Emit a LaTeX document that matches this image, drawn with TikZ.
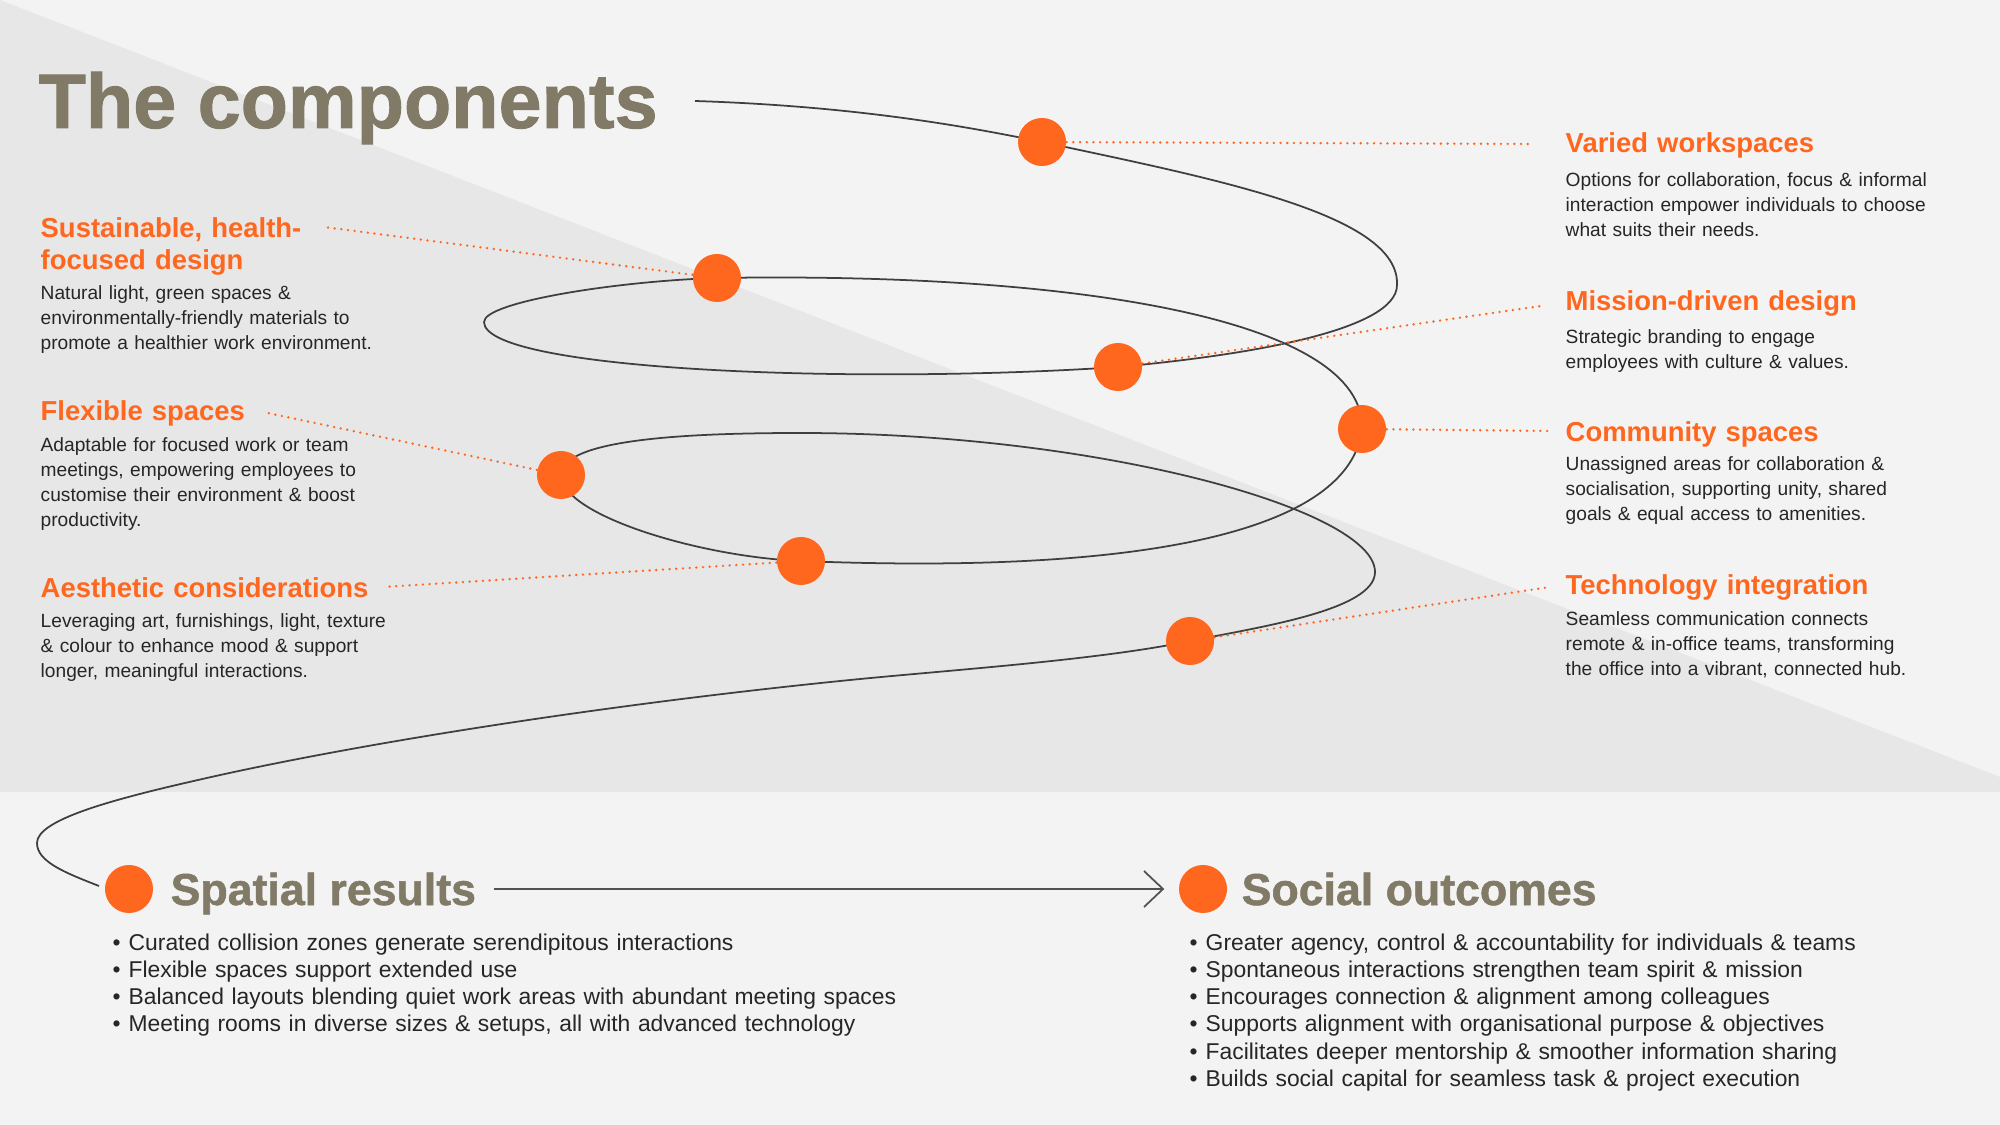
\documentclass[tikz,border=0pt]{standalone}
\usepackage{fontspec}
\setmainfont{Liberation Sans}
\newfontfamily\heavyfont{Liberation Sans}[BoldFeatures={FakeBold=1.2}]
\usetikzlibrary{arrows.meta}
\definecolor{bgl}{HTML}{F3F3F3}
\definecolor{bgd}{HTML}{E7E7E7}
\definecolor{org}{HTML}{FF671F}
\definecolor{ttl}{RGB}{128,122,103}
\definecolor{txt}{HTML}{262626}
\definecolor{ln}{HTML}{3F3F3F}
\pgfdeclarelayer{back}
\pgfdeclarelayer{lines}
\pgfsetlayers{back,lines,main}
\begin{document}
\begin{tikzpicture}[x=0.01cm,y=-0.01cm,
  dot/.style={circle,fill=org,minimum size=0.48cm,inner sep=0},
  lead/.style={org,line width=0.75pt,dash pattern=on 0pt off 1.9pt,line cap=round},
  head/.style={anchor=base west,inner sep=0,text=org,font=\bfseries\fontsize{7.8}{9.1}\selectfont,text width=5cm,align=left},
  body/.style={anchor=base west,inner sep=0,text=txt,font=\fontsize{5.45}{7.08}\selectfont,text width=5cm,align=left},
  big/.style={anchor=base west,inner sep=0,text=ttl,font=\heavyfont\bfseries\fontsize{12.7}{15}\selectfont},
  blist/.style={anchor=base west,inner sep=0,text=txt,font=\fontsize{6.5}{7.77}\selectfont,text width=9cm,align=left},
  spiral/.style={ln,line width=0.5pt},
  arr/.style={ln!90,line width=0.5pt,-{Straight Barb[length=1.9mm,width=3.6mm,line width=0.5pt]}}]
\useasboundingbox (0,0) rectangle (2000,1125);
\begin{pgfonlayer}{back}
\fill[bgl] (0,0) rectangle (2000,1125);
\fill[bgd] (0,0) -- (2000,777) -- (2000,792) -- (0,792) -- cycle;
\end{pgfonlayer}

% title
\node[anchor=base west,inner sep=0,text=ttl,font=\heavyfont\bfseries\fontsize{22}{26}\selectfont] (title) at (38,128) {The components};

% dots
\node[dot] (vw) at (1042,142) {};
\node[dot] (md) at (1118,367) {};
\node[dot] (su) at (717,278) {};
\node[dot] (cs) at (1362,429) {};
\node[dot] (fs) at (561,475) {};
\node[dot] (ae) at (801,561) {};
\node[dot] (te) at (1190,641) {};
\node[dot] (sp) at (129,889) {};
\node[dot] (so) at (1203,889) {};

% path way-points
\coordinate (s0) at (695,101);
\coordinate (r1) at (1397,285);
\coordinate (l1) at (484,322);
\coordinate (t2) at (800,433);
\coordinate (r2) at (1375,572);
\coordinate (k1) at (850,680);
\coordinate (k2) at (198,780);
\coordinate (l3) at (37,843);
\coordinate (s1) at (99,886);

\begin{pgfonlayer}{lines}
\draw[spiral] (s0) .. controls (850,106) and (960,125) .. (vw.center)
 .. controls (1220,180) and (1400,215) .. (r1)
 .. controls (1397,330) and (1250,355) .. (md.center)
 .. controls (850,385) and (484,370) .. (l1)
 .. controls (484,302) and (617,281) .. (su.center)
 .. controls (1080,272) and (1365,320) .. (cs.center)
 .. controls (1350,530) and (1150,575) .. (ae.center)
 .. controls (700,557) and (561,515) .. (fs.center)
 .. controls (561,440) and (680,433) .. (t2)
 .. controls (1100,433) and (1375,510) .. (r2)
 .. controls (1375,610) and (1260,627) .. (te.center)
 .. controls (1100,660) and (950,670) .. (k1)
 .. controls (600,705) and (350,745) .. (k2)
 .. controls (110,800) and (37,820) .. (l3)
 .. controls (37,862) and (66,873) .. (s1);
\end{pgfonlayer}

% leader ends
\coordinate (vwE) at (1533,144);
\coordinate (mdE) at (1541,306);
\coordinate (csE) at (1548,431);
\coordinate (teE) at (1550,587);
\coordinate (suE) at (324,227);
\coordinate (fsE) at (263,412);
\coordinate (aeE) at (383,587);
\draw[lead] (vw) -- (vwE);
\draw[lead] (md) -- (mdE);
\draw[lead] (cs) -- (csE);
\draw[lead] (te) -- (teE);
\draw[lead] (su) -- (suE);
\draw[lead] (fs) -- (fsE);
\draw[lead] (ae) -- (aeE);

% left texts
\node[head] (suh) at (40,238) {Sustainable, health-\\focused design};
\node[body] (sub) at (40,300) {Natural light, green spaces \&\\environmentally-friendly materials to\\promote a healthier work environment.};
\node[head] (fsh) at (40,421) {Flexible spaces};
\node[body] (fsb) at (40,452) {Adaptable for focused work or team\\meetings, empowering employees to\\customise their environment \& boost\\productivity.};
\node[head] (aeh) at (40,598) {Aesthetic considerations};
\node[body] (aeb) at (40,628) {Leveraging art, furnishings, light, texture\\\& colour to enhance mood \& support\\longer, meaningful interactions.};

% right texts
\node[head] (vwh) at (1565,153) {Varied workspaces};
\node[body] (vwb) at (1565,187) {Options for collaboration, focus \& informal\\interaction empower individuals to choose\\what suits their needs.};
\node[head] (mdh) at (1565,311) {Mission-driven design};
\node[body] (mdb) at (1565,344) {Strategic branding to engage\\employees with culture \& values.};
\node[head] (csh) at (1565,442) {Community spaces};
\node[body] (csb) at (1565,471) {Unassigned areas for collaboration \&\\socialisation, supporting unity, shared\\goals \& equal access to amenities.};
\node[head] (teh) at (1565,595) {Technology integration};
\node[body] (teb) at (1565,626) {Seamless communication connects\\remote \& in-office teams, transforming\\the office into a vibrant, connected hub.};

% bottom
\node[big] (spt) at (170,905) {Spatial results};
\node[big] (sot) at (1241,905) {Social outcomes};
\begin{pgfonlayer}{lines}
\draw[arr,shorten <=0.17cm,shorten >=0.14cm] (spt.east |- sp.center) -- (so.west);
\end{pgfonlayer}
\node[blist] (spl) at (112,950) {\makebox[0.16cm][l]{•}Curated collision zones generate serendipitous interactions\\\makebox[0.16cm][l]{•}Flexible spaces support extended use\\\makebox[0.16cm][l]{•}Balanced layouts blending quiet work areas with abundant meeting spaces\\\makebox[0.16cm][l]{•}Meeting rooms in diverse sizes \& setups, all with advanced technology};
\node[blist] (sol) at (1189,950) {\makebox[0.16cm][l]{•}Greater agency, control \& accountability for individuals \& teams\\\makebox[0.16cm][l]{•}Spontaneous interactions strengthen team spirit \& mission\\\makebox[0.16cm][l]{•}Encourages connection \& alignment among colleagues\\\makebox[0.16cm][l]{•}Supports alignment with organisational purpose \& objectives\\\makebox[0.16cm][l]{•}Facilitates deeper mentorship \& smoother information sharing\\\makebox[0.16cm][l]{•}Builds social capital for seamless task \& project execution};
\end{tikzpicture}
\end{document}
